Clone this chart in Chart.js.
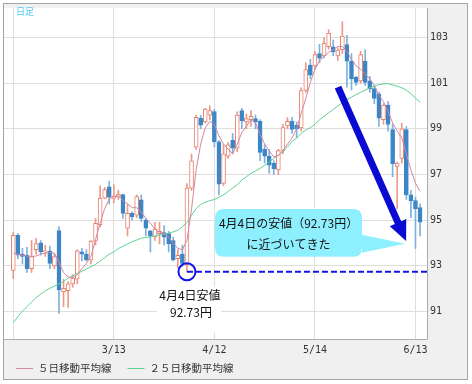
<!DOCTYPE html>
<html>
<head>
<meta charset="utf-8">
<script src="https://cdn.jsdelivr.net/npm/chart.js@4.4.1/dist/chart.umd.min.js"></script>
<style>
  html, body { margin: 0; padding: 0; background: #fff; }
  canvas { display: block; }
</style>
</head>
<body>
<canvas id="chart" width="472" height="384"></canvas>
<script>
// daily USD/JPY candles (2013)
const dates = [
  '2/11','2/12','2/13','2/14','2/15','2/18','2/19','2/20','2/21','2/22',
  '2/25','2/26','2/27','2/28','3/1','3/4','3/5','3/6','3/7','3/8',
  '3/11','3/12','3/13','3/14','3/15','3/18','3/19','3/20','3/21','3/22',
  '3/25','3/26','3/27','3/28','3/29','4/1','4/2','4/3','4/4','4/5',
  '4/8','4/9','4/10','4/11','4/12','4/15','4/16','4/17','4/18','4/19',
  '4/22','4/23','4/24','4/25','4/26','4/29','4/30','5/1','5/2','5/3',
  '5/6','5/7','5/8','5/9','5/10','5/13','5/14','5/15','5/16','5/17',
  '5/20','5/21','5/22','5/23','5/24','5/27','5/28','5/29','5/30','5/31',
  '6/3','6/4','6/5','6/6','6/7','6/10','6/11','6/12','6/13','6/14'
];
const openP = [
  92.79, 94.33, 93.50, 93.46, 92.86, 93.70, 94.00, 93.60, 93.64, 92.99,
  94.54, 91.85, 91.90, 92.20, 92.40, 93.60, 93.50, 93.25, 94.07, 94.80,
  95.96, 96.45, 95.95, 96.00, 96.11, 94.64, 95.29, 95.21, 95.89, 95.00,
  94.53, 94.25, 94.40, 94.45, 94.40, 94.10, 93.30, 93.50, 93.04, 96.40,
  98.19, 99.47, 99.30, 99.60, 99.76, 98.43, 96.60, 97.80, 98.50, 98.15,
  99.80, 99.30, 99.40, 99.45, 99.33, 98.10, 97.80, 97.50, 97.20, 98.05,
  99.13, 99.33, 99.15, 99.04, 100.68, 101.80, 101.76, 102.30, 102.20, 102.60,
  102.60, 102.20, 102.47, 102.70, 101.97, 101.26, 101.10, 101.97, 101.10, 100.76,
  100.54, 99.40, 100.04, 98.97, 97.35, 97.70, 98.97, 96.10, 95.85, 95.55
];
const highP = [
  94.47, 94.40, 93.76, 93.80, 94.10, 94.20, 94.10, 93.90, 93.86, 93.50,
  94.70, 92.40, 92.30, 92.60, 93.70, 93.76, 93.70, 94.10, 95.07, 96.50,
  96.43, 96.70, 96.55, 96.30, 96.14, 95.70, 95.36, 96.10, 96.10, 95.07,
  94.55, 94.90, 94.90, 94.75, 94.50, 94.25, 93.70, 93.90, 96.60, 97.90,
  99.60, 99.60, 99.90, 100.00, 99.85, 98.50, 98.30, 98.40, 98.80, 99.75,
  99.90, 99.65, 99.80, 99.60, 99.40, 98.30, 98.10, 97.60, 98.10, 99.20,
  99.50, 99.50, 99.30, 100.80, 101.90, 102.05, 102.40, 102.70, 103.00, 103.35,
  102.90, 102.55, 103.70, 103.10, 102.30, 101.30, 102.40, 102.47, 101.30, 100.90,
  100.60, 100.10, 100.20, 99.20, 97.55, 99.25, 99.10, 96.30, 96.00, 95.70
];
const lowP = [
  92.43, 93.30, 93.07, 92.70, 92.70, 93.50, 93.46, 93.40, 92.86, 92.86,
  90.90, 91.20, 91.17, 92.05, 92.20, 93.20, 93.20, 93.07, 93.90, 94.70,
  95.93, 95.70, 95.75, 95.90, 95.07, 94.30, 95.00, 95.10, 94.93, 94.30,
  93.60, 94.10, 93.95, 93.90, 93.60, 93.20, 92.90, 92.95, 92.73, 96.30,
  98.10, 99.00, 99.25, 99.40, 98.20, 96.10, 96.50, 97.70, 97.90, 98.00,
  99.00, 99.00, 99.10, 99.00, 97.60, 97.50, 97.05, 97.00, 97.00, 97.90,
  99.00, 98.80, 98.60, 98.90, 100.60, 101.20, 101.60, 101.90, 102.10, 102.50,
  102.20, 102.00, 102.30, 100.83, 100.70, 100.90, 101.00, 100.90, 100.60, 100.10,
  99.10, 99.20, 98.90, 96.90, 95.50, 97.50, 95.90, 95.10, 93.75, 94.30
];
const closeP = [
  94.33, 93.46, 93.40, 92.86, 93.40, 93.97, 93.60, 93.65, 93.10, 93.40,
  91.93, 92.00, 92.20, 92.45, 93.65, 93.50, 93.25, 94.07, 94.85, 95.96,
  96.33, 96.00, 96.05, 96.14, 95.29, 95.29, 95.14, 96.03, 95.07, 94.64,
  94.29, 94.60, 94.50, 94.25, 93.95, 93.25, 93.45, 93.10, 96.40, 97.60,
  99.50, 99.16, 99.87, 99.80, 98.43, 96.57, 97.90, 98.30, 98.15, 99.60,
  99.35, 99.45, 99.55, 99.30, 97.97, 97.80, 97.40, 97.25, 98.05, 99.05,
  99.33, 98.97, 99.00, 100.68, 101.60, 101.35, 102.26, 102.10, 102.76, 103.20,
  102.37, 102.45, 103.07, 101.97, 101.19, 101.04, 102.26, 101.04, 100.76, 100.33,
  99.47, 100.04, 99.19, 97.47, 97.50, 99.00, 96.10, 95.85, 95.50, 94.90
];
const ma5 = [
  93.55, 93.50, 93.45, 93.42, 93.40, 93.42, 93.50, 93.55, 93.57, 93.55,
  93.14, 92.70, 92.50, 92.45, 92.60, 92.86, 93.10, 93.40, 94.14, 94.86,
  95.50, 95.93, 96.03, 96.07, 95.86, 95.71, 95.54, 95.54, 95.36, 95.07,
  94.86, 94.60, 94.47, 94.40, 94.26, 93.97, 93.76, 93.69, 94.11, 95.47,
  97.19, 98.33, 99.04, 99.33, 99.19, 98.69, 98.33, 98.11, 97.90, 98.33,
  98.83, 99.11, 99.40, 99.26, 98.76, 98.33, 98.04, 97.76, 97.83, 98.04,
  98.33, 98.60, 99.00, 99.69, 100.33, 101.04, 101.61, 101.97, 102.19, 102.36,
  102.47, 102.61, 102.61, 102.40, 102.04, 101.76, 101.61, 101.40, 101.19, 100.90,
  100.47, 100.19, 99.76, 99.26, 98.90, 98.61, 97.90, 97.19, 96.61, 96.26
];
const ma25 = [
  90.50, 90.75, 91.00, 91.20, 91.40, 91.60, 91.75, 91.90, 92.00, 92.10,
  92.20, 92.30, 92.45, 92.55, 92.65, 92.75, 92.85, 92.95, 93.05, 93.20,
  93.35, 93.50, 93.60, 93.75, 93.85, 93.95, 94.05, 94.12, 94.20, 94.23,
  94.26, 94.30, 94.35, 94.38, 94.42, 94.48, 94.55, 94.70, 94.90, 95.20,
  95.50, 95.68, 95.78, 95.85, 95.90, 96.00, 96.10, 96.25, 96.40, 96.55,
  96.75, 96.90, 97.05, 97.15, 97.27, 97.40, 97.55, 97.70, 97.85, 98.00,
  98.20, 98.45, 98.60, 98.80, 98.95, 99.05, 99.20, 99.40, 99.55, 99.70,
  99.85, 100.00, 100.15, 100.28, 100.39, 100.50, 100.60, 100.70, 100.80, 100.88,
  100.94, 100.97, 100.98, 100.93, 100.87, 100.80, 100.70, 100.54, 100.35, 100.17
];
const seriesNames = ['５日移動平均線', '２５日移動平均線'];
const yTicks = [91, 93, 95, 97, 99, 101, 103];
const xGridDates = ['2/11', '3/13', '4/12', '5/14', '6/13'];
const xTickLabels = ['', '3/13', '4/12', '5/14', '6/13'];
const lowDate = '4/4';
const lowValue = 92.73;

const UP_LINE = '#e5806a', UP_WICK = '#eb9a88';
const DOWN_BODY = '#3d86c6', DOWN_WICK = '#7db2dc';
const MA5_COLOR = '#d486a6', MA25_COLOR = '#5ed392';
const isUp = i => closeP[i] >= openP[i];

const decor = {
  id: 'decor',
  beforeDraw(chart) {
    const c = chart.ctx, a = chart.chartArea;
    c.save();
    c.fillStyle = '#fff';
    c.fillRect(0, 0, chart.width, chart.height);
    c.fillStyle = '#f0f0f0';
    c.fillRect(3, 3, 465, 377);
    c.fillStyle = '#fff';
    c.fillRect(a.left, a.top, a.right - a.left, a.bottom - a.top);
    c.restore();
  },
  afterDatasetsDraw(chart) {
    const c = chart.ctx, a = chart.chartArea;
    const xs = chart.scales.x, ys = chart.scales.y;
    const P = (i, v) => [xs.getPixelForValue(i), ys.getPixelForValue(v)];
    c.save();

    // callout bubble
    const [bl, bt] = P(44.15, 95.48);
    const [br, bb] = P(76.3, 93.39);
    const [tx, ty] = P(85.7, 93.96);
    const r = 9;
    c.fillStyle = '#8ef0ff';
    c.beginPath();
    c.moveTo(bl + r, bt);
    c.lineTo(br - r, bt);
    c.quadraticCurveTo(br, bt, br, bt + r);
    c.lineTo(br, bb - 22);
    c.lineTo(tx, ty);
    c.lineTo(br, bb - 4);
    c.lineTo(br, bb - r);
    c.quadraticCurveTo(br, bb, br - r, bb);
    c.lineTo(bl + r, bb);
    c.quadraticCurveTo(bl, bb, bl, bb - r);
    c.lineTo(bl, bt + r);
    c.quadraticCurveTo(bl, bt, bl + r, bt);
    c.closePath();
    c.fill();
    c.fillStyle = '#111';
    c.font = '12px "Noto Sans CJK JP"';
    c.textAlign = 'center';
    c.textBaseline = 'middle';
    c.fillText('4月4日の安値（92.73円）', (bl + br) / 2, bt + 14);
    c.fillText('に近づいてきた', (bl + br) / 2, bt + 35);

    // arrow
    const [x0, y0] = P(71.05, 100.83);
    const [x1, y1] = P(85.95, 94.08);
    const dx = x1 - x0, dy = y1 - y0, len = Math.hypot(dx, dy);
    const ux = dx / len, uy = dy / len, nx = -uy, ny = ux;
    const hl = 20, hw = 9, sw = 3.5;
    const bx = x1 - ux * hl, by = y1 - uy * hl;
    c.fillStyle = '#0a0ad2';
    c.beginPath();
    c.moveTo(x0 + nx * sw, y0 + ny * sw);
    c.lineTo(bx + nx * sw, by + ny * sw);
    c.lineTo(bx + nx * hw, by + ny * hw);
    c.lineTo(x1, y1);
    c.lineTo(bx - nx * hw, by - ny * hw);
    c.lineTo(bx - nx * sw, by - ny * sw);
    c.lineTo(x0 - nx * sw, y0 - ny * sw);
    c.closePath();
    c.fill();

    // 4/4 low marker
    const [cx, cy] = P(dates.indexOf(lowDate), lowValue);
    c.strokeStyle = '#1414e8';
    c.lineWidth = 2;
    c.setLineDash([6, 3]);
    c.beginPath();
    c.moveTo(cx, cy);
    c.lineTo(a.right, cy);
    c.stroke();
    c.setLineDash([]);
    c.beginPath();
    c.arc(cx, cy, 8.5, 0, Math.PI * 2);
    c.stroke();

    c.fillStyle = '#fff';
    c.fillRect(cx - 30, cy + 15, 64, 46);
    c.fillStyle = '#111';
    c.font = '12px "Noto Sans CJK JP"';
    c.fillText('4月4日安値', cx + 3, cy + 24);
    c.fillText(lowValue.toFixed(2) + '円', cx + 4, cy + 41);
    c.restore();
  },
  afterDraw(chart) {
    const c = chart.ctx, a = chart.chartArea;
    c.save();
    c.strokeStyle = '#a4a4a4';
    c.lineWidth = 1;
    c.strokeRect(3.5, 3.5, 464, 376);
    c.strokeStyle = '#acacac';
    c.beginPath();
    c.moveTo(a.right - 0.5, a.top);
    c.lineTo(a.right - 0.5, a.bottom + 0.5);
    c.lineTo(a.left, a.bottom + 0.5);
    c.stroke();

    // title tag
    c.fillStyle = '#4ccaf2';
    c.font = '9px "Noto Sans CJK JP"';
    c.textBaseline = 'middle';
    c.textAlign = 'left';
    c.fillText('日足', 16, 12);

    // legend
    c.font = '10.5px "Noto Sans CJK JP"';
    c.fillStyle = '#333';
    let x = 16;
    const y = 368;
    [[seriesNames[0], MA5_COLOR], [seriesNames[1], MA25_COLOR]].forEach(([name, col]) => {
      c.strokeStyle = col;
      c.lineWidth = 1;
      c.beginPath();
      c.moveTo(x, y + 0.5);
      c.lineTo(x + 17, y + 0.5);
      c.stroke();
      c.fillText(name, x + 22, y);
      x += 22 + c.measureText(name).width + 16;
    });
    c.restore();
  }
};

new Chart(document.getElementById('chart'), {
  data: {
    datasets: [
      {
        type: 'bar',
        label: 'wick',
        data: dates.map((d, i) => ({ x: i, y: [lowP[i], highP[i]] })),
        backgroundColor: ctx => isUp(ctx.dataIndex) ? UP_WICK : DOWN_WICK,
        borderWidth: 0,
        barThickness: 1,
        grouped: false,
        order: 3
      },
      {
        type: 'bar',
        label: 'body',
        data: dates.map((d, i) => ({ x: i, y: [openP[i], closeP[i]] })),
        backgroundColor: ctx => isUp(ctx.dataIndex) ? '#ffffff' : DOWN_BODY,
        borderColor: ctx => isUp(ctx.dataIndex) ? UP_LINE : DOWN_BODY,
        borderWidth: 1,
        borderSkipped: false,
        barThickness: 4,
        grouped: false,
        order: 2
      },
      {
        type: 'line',
        label: seriesNames[0],
        data: ma5.map((v, i) => ({ x: i, y: v })),
        borderColor: MA5_COLOR,
        borderWidth: 1,
        pointRadius: 0,
        tension: 0,
        order: 1
      },
      {
        type: 'line',
        label: seriesNames[1],
        data: ma25.map((v, i) => ({ x: i, y: v })),
        borderColor: MA25_COLOR,
        borderWidth: 1,
        pointRadius: 0,
        tension: 0,
        order: 1
      }
    ]
  },
  options: {
    responsive: false,
    animation: false,
    devicePixelRatio: 1,
    layout: { padding: { left: 4, top: 4, right: 4, bottom: 25 } },
    plugins: {
      legend: { display: false },
      tooltip: { enabled: false }
    },
    scales: {
      x: {
        type: 'linear',
        offset: false,
        min: -2.03,
        max: 90.74,
        afterBuildTicks: s => { s.ticks = xGridDates.map(d => ({ value: dates.indexOf(d) })); },
        afterFit: s => { s.height = 20; },
        grid: { color: '#dedede', drawTicks: false, offset: false },
        border: { display: false },
        ticks: {
          autoSkip: false,
          maxRotation: 0,
          padding: 5,
          color: '#333',
          font: { family: 'DejaVu Sans Mono', size: 10 },
          callback: (v, idx) => xTickLabels[idx]
        }
      },
      y: {
        position: 'right',
        min: 89.78,
        max: 104.3,
        afterBuildTicks: s => { s.ticks = yTicks.map(v => ({ value: v })); },
        afterFit: s => { s.width = 40; },
        grid: { color: '#dedede', drawTicks: false },
        border: { display: false },
        ticks: {
          padding: 2,
          color: '#333',
          font: { family: 'DejaVu Sans Mono', size: 10 }
        }
      }
    }
  },
  plugins: [decor]
});
</script>
</body>
</html>
